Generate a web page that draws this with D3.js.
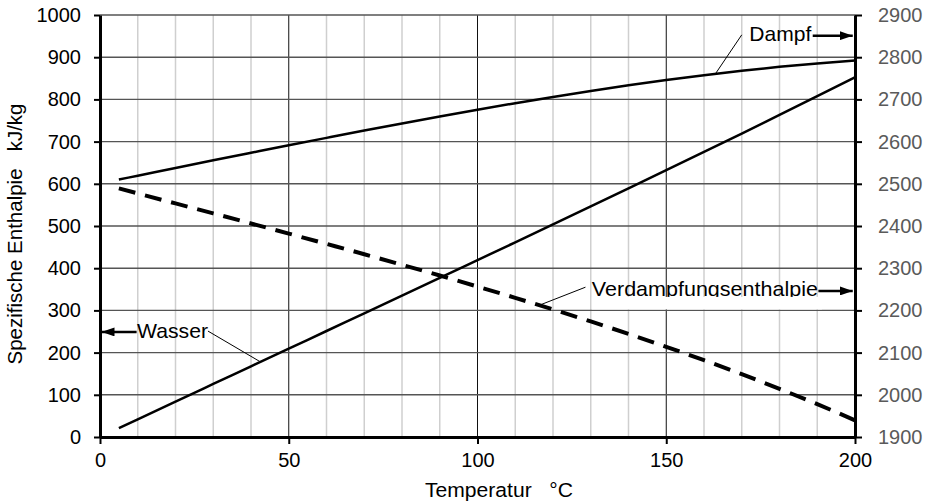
<!DOCTYPE html>
<html>
<head>
<meta charset="utf-8">
<script src="https://cdn.jsdelivr.net/npm/d3@7"></script>
<style>
  html, body { margin: 0; padding: 0; background: #fff; }
  svg { display: block; }
  text { font-family: "Liberation Sans", Arial, sans-serif; }
</style>
</head>
<body>
<svg id="chart" width="932" height="504"></svg>
<script>
// Saturated water/steam: temperature in °C, enthalpies in kJ/kg
const temperatures = [5, 10, 20, 30, 40, 50, 60, 70, 80, 90, 100, 110, 120, 130, 140, 150, 160, 170, 180, 190, 200];
const waterEnthalpy = [21.0, 42.0, 83.9, 125.7, 167.5, 209.3, 251.2, 293.0, 334.9, 376.9, 419.1, 461.3, 503.7, 546.3, 589.1, 632.2, 675.5, 719.1, 763.1, 807.5, 852.4];
const steamEnthalpy = [2510.1, 2519.2, 2537.4, 2555.6, 2573.5, 2591.3, 2608.8, 2626.1, 2643.0, 2659.5, 2675.6, 2691.1, 2705.9, 2720.1, 2733.4, 2745.9, 2757.4, 2767.9, 2777.2, 2785.3, 2792.0];
const evaporationEnthalpy = [2489.1, 2477.2, 2453.5, 2429.9, 2406.0, 2382.0, 2357.6, 2333.1, 2308.1, 2282.6, 2256.5, 2229.8, 2202.2, 2173.8, 2144.3, 2113.7, 2081.9, 2048.8, 2014.1, 1977.8, 1939.6];

const xTicks = [0, 50, 100, 150, 200];
const xMinorTicks = [10, 20, 30, 40, 60, 70, 80, 90, 110, 120, 130, 140, 160, 170, 180, 190];
const leftTicks = [0, 100, 200, 300, 400, 500, 600, 700, 800, 900, 1000];
const rightTicks = [1900, 2000, 2100, 2200, 2300, 2400, 2500, 2600, 2700, 2800, 2900];

const xTitle = "Temperatur   °C";
const yTitle = "Spezifische Enthalpie   kJ/kg";

const svg = d3.select("#chart");
const m = { left: 100, right: 855, top: 15, bottom: 437 };

const x = d3.scaleLinear().domain([0, 200]).range([m.left, m.right]);
const yL = d3.scaleLinear().domain([0, 1000]).range([m.bottom, m.top]);
const yR = d3.scaleLinear().domain([1900, 2900]).range([m.bottom, m.top]);
const fmt = d3.format("d");

// grid
const grid = svg.append("g");
grid.selectAll(".vminor").data(xMinorTicks).join("line")
  .attr("x1", d => x(d)).attr("x2", d => x(d))
  .attr("y1", m.top).attr("y2", m.bottom)
  .attr("stroke", "#cfcfcf").attr("stroke-width", 1.5);
grid.selectAll(".vmajor").data([50, 100, 150]).join("line")
  .attr("x1", d => x(d)).attr("x2", d => x(d))
  .attr("y1", m.top).attr("y2", m.bottom)
  .attr("stroke", "#111").attr("stroke-width", 1);
grid.selectAll(".h").data(leftTicks.slice(1)).join("line")
  .attr("x1", m.left).attr("x2", m.right)
  .attr("y1", d => yL(d)).attr("y2", d => yL(d))
  .attr("stroke", "#555").attr("stroke-width", 1.4);

// axes
const tickFont = g => g.selectAll("text").attr("font-family", "'Liberation Sans', Arial, sans-serif").attr("font-size", 20).attr("fill", "#000");
const axisStyle = g => {
  g.select(".domain").attr("stroke", "#000").attr("stroke-width", 3);
  g.selectAll(".tick line").attr("stroke", "#000").attr("stroke-width", 2);
};

svg.append("g").attr("transform", `translate(0,${m.bottom})`)
  .call(d3.axisBottom(x).tickValues(xTicks).tickFormat(fmt).tickSize(7).tickSizeOuter(0).tickPadding(9))
  .call(axisStyle).call(tickFont);

svg.append("g").attr("transform", `translate(${m.left},0)`)
  .call(d3.axisLeft(yL).tickValues(leftTicks).tickFormat(fmt).tickSize(6).tickSizeOuter(0).tickPadding(13))
  .call(axisStyle).call(tickFont);

svg.append("g").attr("transform", `translate(${m.right},0)`)
  .call(d3.axisRight(yR).tickValues(rightTicks).tickFormat(fmt).tickSize(7).tickSizeOuter(0).tickPadding(16))
  .call(axisStyle)
  .call(g => g.selectAll("text").attr("font-family", "'Noto Sans', 'Open Sans', sans-serif")
    .attr("font-size", 20).attr("fill", "#5a5a5a"));

// series
const rows = temperatures.map((t, i) => ({ t, w: waterEnthalpy[i], s: steamEnthalpy[i], r: evaporationEnthalpy[i] }));
const curve = d3.curveMonotoneX;
svg.append("path").datum(rows)
  .attr("d", d3.line().x(d => x(d.t)).y(d => yL(d.w)).curve(curve))
  .attr("fill", "none").attr("stroke", "#000").attr("stroke-width", 2.5);
svg.append("path").datum(rows)
  .attr("d", d3.line().x(d => x(d.t)).y(d => yR(d.s)).curve(curve))
  .attr("fill", "none").attr("stroke", "#000").attr("stroke-width", 2.5);
svg.append("path").datum(rows)
  .attr("d", d3.line().x(d => x(d.t)).y(d => yR(d.r)).curve(curve))
  .attr("fill", "none").attr("stroke", "#000").attr("stroke-width", 4)
  .attr("stroke-dasharray", "17,10");

// annotations
svg.append("defs").append("marker")
  .attr("id", "head").attr("viewBox", "0 0 13 9").attr("refX", 13).attr("refY", 4.5)
  .attr("markerWidth", 13).attr("markerHeight", 9).attr("markerUnits", "userSpaceOnUse")
  .attr("orient", "auto")
  .append("path").attr("d", "M0,0 L13,4.5 L0,9 Z").attr("fill", "#000");

const ann = svg.append("g");
const leader = (t1, v1, t2, v2, sc) => ann.append("line")
  .attr("x1", x(t1)).attr("y1", sc(v1)).attr("x2", x(t2)).attr("y2", sc(v2))
  .attr("stroke", "#000").attr("stroke-width", 1);
const arrow = (t1, t2, v, sc) => ann.append("line")
  .attr("x1", x(t1)).attr("y1", sc(v)).attr("x2", x(t2)).attr("y2", sc(v))
  .attr("stroke", "#000").attr("stroke-width", 2.5).attr("marker-end", "url(#head)");
const label = (t, v, sc, txt, len) => ann.append("text")
  .attr("x", x(t)).attr("y", sc(v)).attr("font-size", 21).attr("fill", "#000")
  .attr("textLength", len).attr("lengthAdjust", "spacingAndGlyphs").text(txt);

// Dampf
leader(162.9, 2759, 170, 2853, yR);
label(172, 2838, yR, "Dampf", 62);
arrow(188.8, 199.4, 2851, yR);

// Wasser
leader(28.6, 251, 42.5, 178, yL);
label(9.8, 234, yL, "Wasser", 71);
arrow(9.7, 0.4, 249, yL);

// Verdampfungsenthalpie (label box clips descenders)
leader(116.6, 2213, 128.6, 2255, yR);
label(130.3, 2234, yR, "Verdampfungsenthalpie", 226);
ann.append("rect").attr("x", x(130.3)).attr("y", yR(2232)).attr("width", 230).attr("height", yR(2200) - yR(2232) - 1)
  .attr("fill", "#fff");
arrow(190.3, 199.4, 2246, yR);

// axis titles
svg.append("text").attr("x", 425).attr("y", 497)
  .attr("font-size", 20.5).attr("textLength", 148).attr("lengthAdjust", "spacingAndGlyphs")
  .style("white-space", "pre").text(xTitle);
svg.append("text").attr("transform", `translate(22,${(m.top + m.bottom) / 2 + 8}) rotate(-90)`)
  .attr("text-anchor", "middle").attr("font-size", 20.5)
  .style("white-space", "pre").text(yTitle);
</script>
</body>
</html>
